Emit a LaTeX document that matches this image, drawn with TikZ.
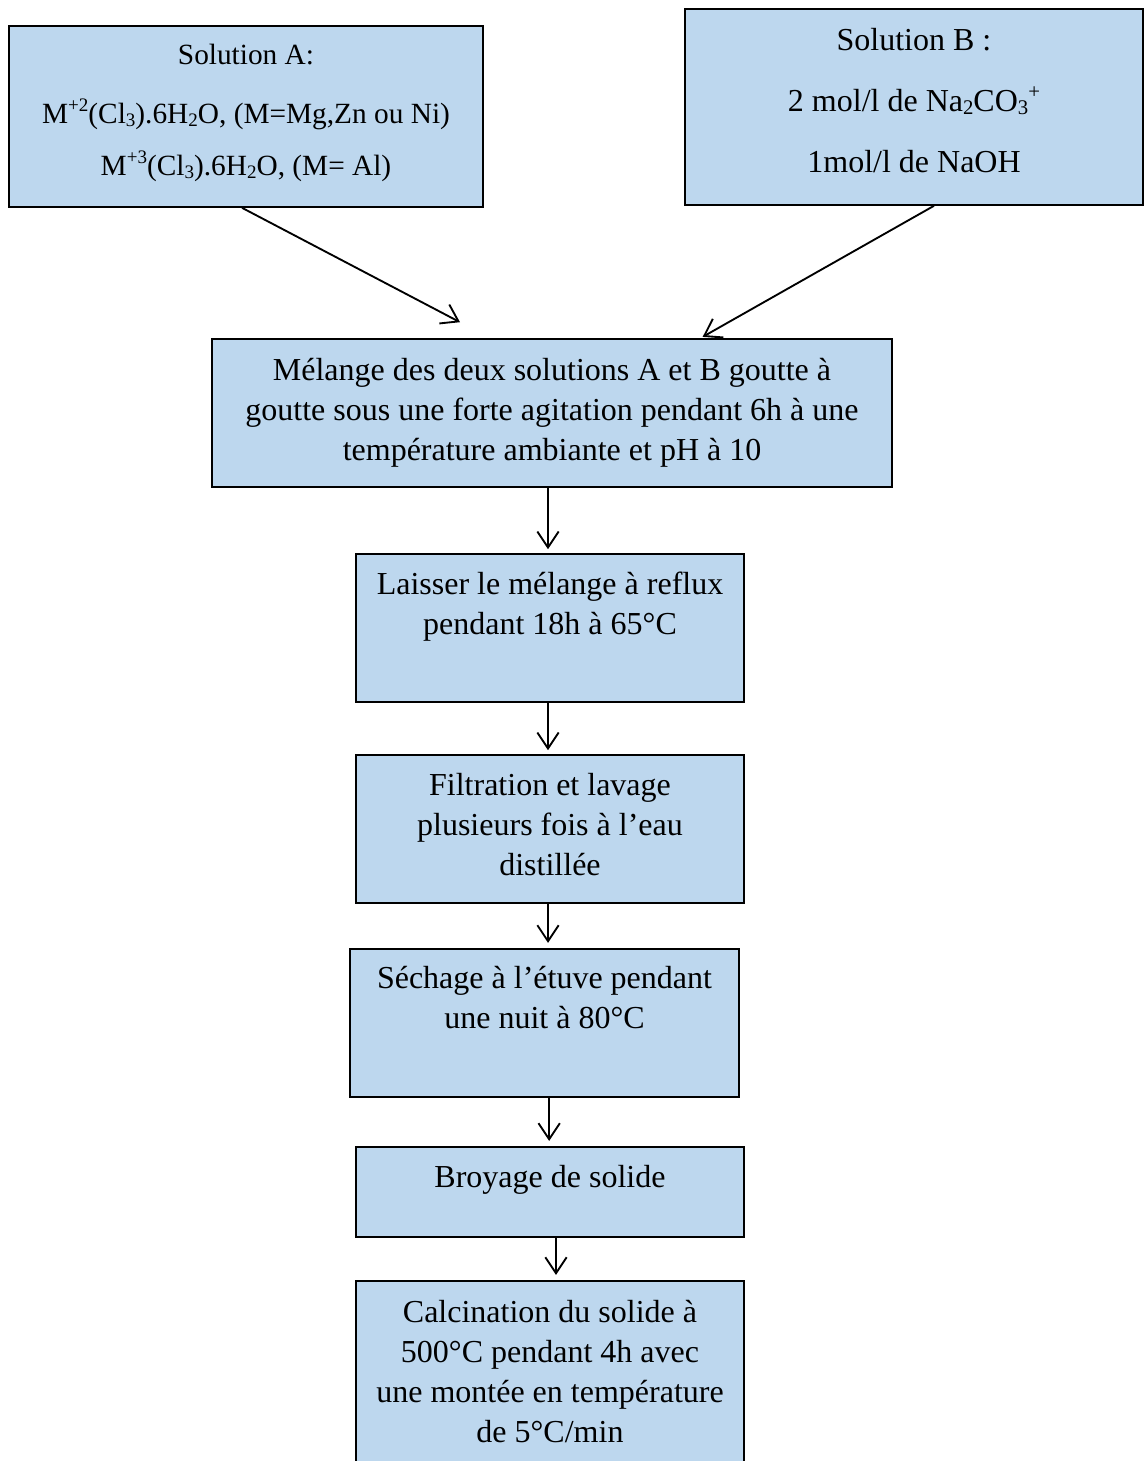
\documentclass[tikz,border=0pt]{standalone}
\usepackage{fontspec}
\setmainfont{Liberation Serif}
\usepackage{graphicx}
\usetikzlibrary{arrows.meta}
\definecolor{boxblue}{RGB}{189,215,238}
\newcommand\expo[1]{\raisebox{0.38em}{\scalebox{0.65}{#1}}}
\newcommand\indice[1]{\raisebox{-0.12em}{\scalebox{0.65}{#1}}}
\tikzset{
  etape/.style={draw, fill=boxblue, line width=1.2pt, inner sep=0pt},
  texte/.style={anchor=base, align=center, inner sep=0pt, font=\fontsize{24}{30}\selectfont},
  fleche/.style={-{Straight Barb[length=12pt,width=16pt]}, line width=1.4pt},
}
\begin{document}
\begin{tikzpicture}[x=0.75pt,y=-0.75pt]
\useasboundingbox (0,0) rectangle (1144,1461);
% les boites
\node[etape, minimum width=355.5pt, minimum height=135.75pt] (solA) at (246,116.5) {};
\node[etape, minimum width=343.5pt, minimum height=147pt] (solB) at (914,107) {};
\node[etape, minimum width=510pt, minimum height=111pt] (mix) at (552,413) {};
\node[etape, minimum width=291pt, minimum height=111pt] (reflux) at (550,628) {};
\node[etape, minimum width=291pt, minimum height=111pt] (filtr) at (550,829) {};
\node[etape, minimum width=291.75pt, minimum height=111pt] (sechage) at (544.5,1023) {};
\node[etape, minimum width=291pt, minimum height=67.5pt] (broyage) at (550,1192) {};
\node[etape, minimum width=291pt, minimum height=141.75pt] (calc) at (550,1375.5) {};
% les textes (ancre sur la derniere ligne)
\node[texte, font=\fontsize{22}{39}\selectfont] (solAtxt) at (246,175)
  {Solution A:\\[5.25pt]
   M\expo{+2}(Cl\indice{3}).6H\indice{2}O, (M=Mg,Zn ou Ni)\\
   M\expo{+3}(Cl\indice{3}).6H\indice{2}O, (M= Al)};
\node[texte, font=\fontsize{24}{45.75}\selectfont] (solBtxt) at (914,172)
  {Solution B :\\ 2 mol/l de Na\indice{2}CO\indice{3}\expo{+}\\ 1mol/l de NaOH};
\node[texte] (mixtxt) at (552,460)
  {Mélange des deux solutions A et B goutte à\\ goutte sous une forte agitation pendant 6h à une\\ température ambiante et pH à 10};
\node[texte] (refluxtxt) at (550,634) {Laisser le mélange à reflux\\ pendant 18h à 65°C};
\node[texte] (filtrtxt) at (550,875) {Filtration et lavage\\ plusieurs fois à l’eau\\ distillée};
\node[texte] (sechagetxt) at (544.5,1028) {Séchage à l’étuve pendant\\ une nuit à 80°C};
\node[texte] (broyagetxt) at (550,1187) {Broyage de solide};
\node[texte] (calctxt) at (550,1442)
  {Calcination du solide à\\ 500°C pendant 4h avec\\ une montée en température\\ de 5°C/min};
% les fleches
\draw[fleche] ([xshift=-3pt]solA.south) -- ([xshift=-69pt,yshift=12pt]mix.north);
\draw[fleche] ([xshift=15pt]solB.south) -- ([xshift=113pt,yshift=1pt]mix.north);
\draw[fleche, shorten >=3pt] ([xshift=-3pt]mix.south) -- ([xshift=-3pt]mix.south |- reflux.north);
\draw[fleche, shorten >=3pt] ([xshift=-1.5pt]reflux.south) -- ([xshift=-1.5pt]reflux.south |- filtr.north);
\draw[fleche, shorten >=4pt] ([xshift=-1.5pt]filtr.south) -- ([xshift=-1.5pt]filtr.south |- sechage.north);
\draw[fleche, shorten >=4pt] ([xshift=3.5pt]sechage.south) -- ([xshift=3.5pt]sechage.south |- broyage.north);
\draw[fleche, shorten >=4pt] ([xshift=4.5pt]broyage.south) -- ([xshift=4.5pt]broyage.south |- calc.north);
\end{tikzpicture}
\end{document}
